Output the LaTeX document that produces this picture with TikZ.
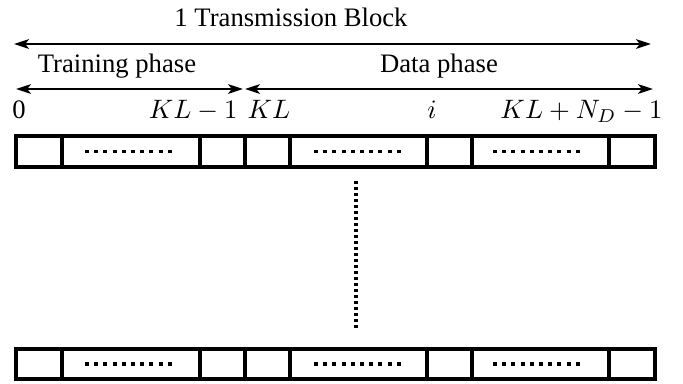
\documentclass[tikz,border=0pt]{standalone}
\usepackage{fontspec}
\setmainfont{Liberation Serif}
\usetikzlibrary{arrows.meta}
\begin{document}
\begin{tikzpicture}[x=0.375pt,y=-0.375pt,
  tip/.tip={Stealth[length=5.6pt,width=3.6pt,inset=1.4pt]},
  arr/.style={line width=0.9pt,tip-tip},
  cellline/.style={line width=1.5pt},
  celldots/.style={line width=1.15pt,dash pattern=on 1.5pt off 1.95pt},
  vdots/.style={line width=1.4pt,dash pattern=on 1.1pt off 1.15pt},
  lbl/.style={inner sep=0pt,anchor=base,font=\fontsize{10}{12}\selectfont}]
\useasboundingbox (0,0) rectangle (683,383);
% labels
\node[lbl] (title) at (291,26) {1 Transmission Block};
\node[lbl] (train) at (117,72) {Training phase};
\node[lbl] (data) at (439,72) {Data phase};
\node[lbl] (l0) at (19,118) {0};
\node[lbl,anchor=base east] (lkl1) at (238,118) {$KL-1$};
\node[lbl,anchor=base west] (lkl) at (247,118) {$KL$};
\node[lbl] (li) at (432,118) {$i$};
\node[lbl,anchor=base east] (lend) at (663,118) {$KL+N_D-1$};
% arrow end points
\coordinate (tA) at (14,44); \coordinate (tB) at (651,44);
\coordinate (trA) at (16,89); \coordinate (trB) at (243,89);
\coordinate (dA) at (245,89); \coordinate (dB) at (653,89);
\draw[arr] (tA) -- (tB);
\draw[arr] (trA) -- (trB);
\draw[arr] (dA) -- (dB);
% rows of cells
\foreach \ya/\yb in {136/167,349/379}{
  \draw[cellline] (16,\ya) rectangle (655,\yb);
  \foreach \x in {62,200,245,290,427,472,609}
    \draw[cellline] (\x,\ya) -- (\x,\yb);
  \foreach \c in {129,358,537}
    \draw[celldots] ({\c-44},{(\ya+\yb)/2}) -- ({\c+45},{(\ya+\yb)/2});
}
% vertical dotted line
\coordinate (vA) at (356,181); \coordinate (vB) at (356,330);
\draw[vdots] (vA) -- (vB);
\end{tikzpicture}
\end{document}
